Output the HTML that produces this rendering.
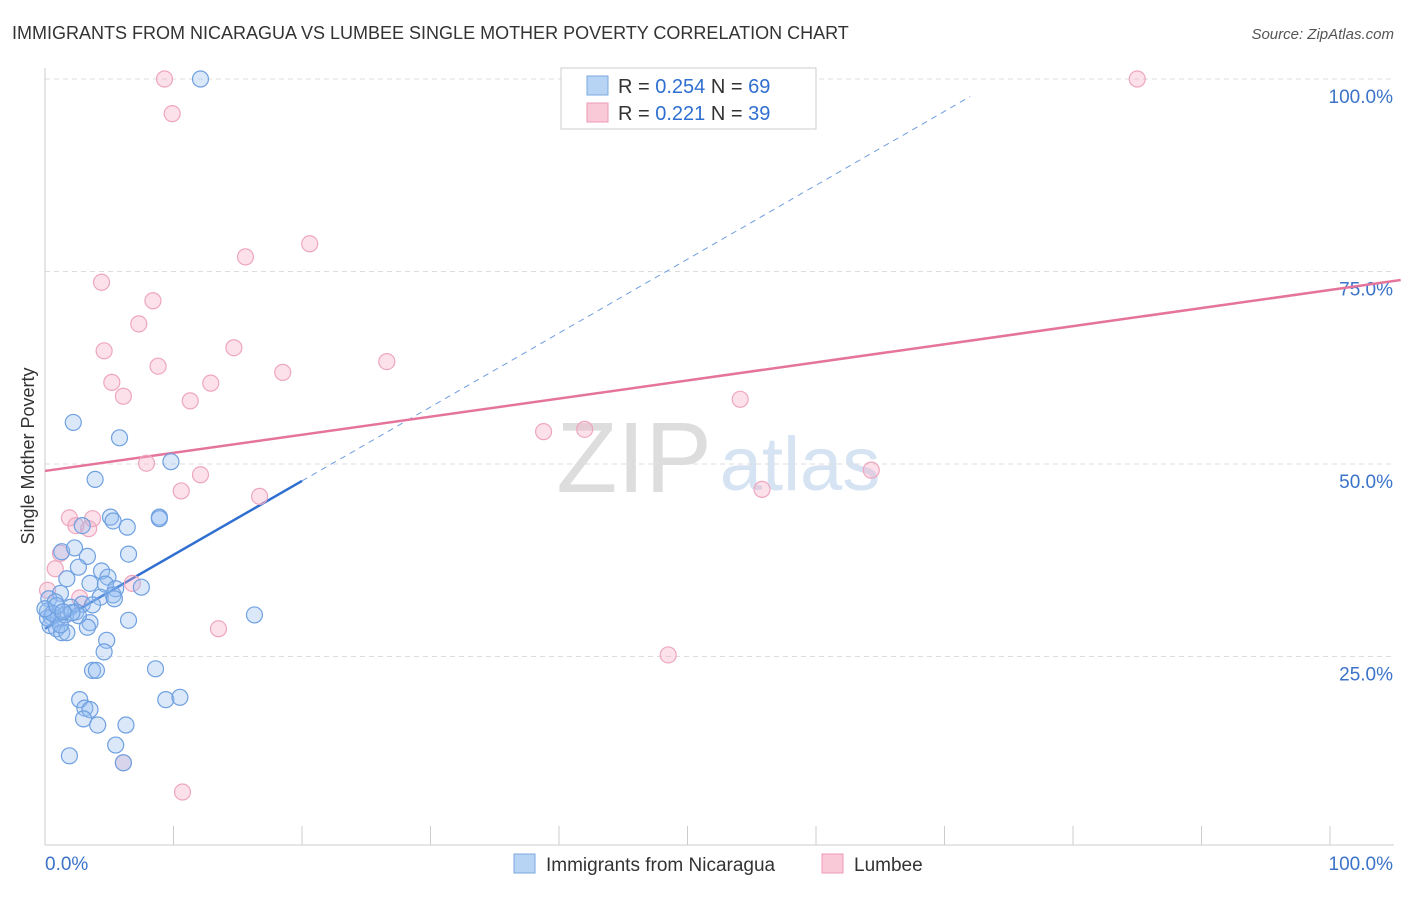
<!DOCTYPE html>
<html><head><meta charset="utf-8"><style>
body{margin:0;background:#fff;font-family:"Liberation Sans",sans-serif}
svg text{font-family:"Liberation Sans",sans-serif}
</style></head><body>
<svg id="chart" width="1406" height="892" xmlns="http://www.w3.org/2000/svg">
<text x="12" y="39" font-size="18" fill="#333">IMMIGRANTS FROM NICARAGUA VS LUMBEE SINGLE MOTHER POVERTY CORRELATION CHART</text>
<text x="1394" y="39" font-size="15" fill="#555" font-style="italic" text-anchor="end">Source: ZipAtlas.com</text>
<text x="34" y="456" font-size="18" fill="#333" transform="rotate(-90 34 456)" text-anchor="middle">Single Mother Poverty</text>
<g><text x="634" y="492" font-size="100" fill="#ddd" text-anchor="middle" font-family="Liberation Serif">ZIP</text><text x="800" y="490" font-size="76" fill="#d5e3f3" text-anchor="middle">atlas</text></g>
<g id="grid"></g><g id="axes"></g><g id="trends"></g><g id="pts"></g>
<g>
<rect x="561" y="68" width="255" height="61" fill="#fff" stroke="#ccc"/>
<rect x="587" y="76" width="21" height="19" fill="#b8d4f5" stroke="#7aa8e0"/>
<rect x="587" y="103" width="21" height="19" fill="#f9c9d8" stroke="#ee9ab5"/>
<text x="618" y="93" font-size="20" fill="#333">R = <tspan fill="#2f6fd0">0.254</tspan>   N = <tspan fill="#2f6fd0">69</tspan></text>
<text x="618" y="120" font-size="20" fill="#333">R =  <tspan fill="#2f6fd0">0.221</tspan>   N = <tspan fill="#2f6fd0">39</tspan></text>
</g>
<g>
<rect x="514" y="854" width="21" height="19" fill="#b8d4f5" stroke="#7aa8e0"/>
<text x="546" y="871" font-size="19" fill="#333">Immigrants from Nicaragua</text>
<rect x="822" y="854" width="21" height="19" fill="#f9c9d8" stroke="#ee9ab5"/>
<text x="854" y="871" font-size="19" fill="#333">Lumbee</text>
</g>
</svg>
<script>
const blueX=[12.1,2.2,5.8,9.8,3.9,5.1,5.3,8.9,8.9,6.4,2.9,1.3,2.3,3.3,6.5,2.6,4.4,1.7,4.9,3.5,4.7,7.5,5.5,5.3,4.3,1.2,0.3,0.8,2.9,3.7,2.0,2.4,0.2,0.5,1.0,1.6,0.4,0.9,1.3,1.7,3.5,3.3,6.5,16.3,4.8,4.6,3.7,4.0,8.6,2.7,9.4,10.5,3.1,3.5,3.0,4.1,6.3,5.5,1.9,6.1,0.2,0.6,0.0,1.2,2.6,5.4,2.1,0.9,1.4];
const blueY=[100,55.4,53.4,50.3,48,43.1,42.6,43.1,42.9,41.8,42,38.6,39.1,38,38.3,36.6,36.1,35.1,35.3,34.5,34.4,34,33.8,33,32.7,33.2,32.5,32.1,31.8,31.7,31.4,30.8,30.9,30.1,29.9,30.4,29,28.6,28.1,28.1,29.4,28.8,29.7,30.4,27.1,25.6,23.2,23.2,23.4,19.4,19.4,19.7,18.3,18.1,16.9,16.1,16.1,13.5,12.1,11.2,30,30.6,31.2,29.1,30.3,32.5,30.7,31.6,30.8];
const pinkX=[9.3,85,9.9,20.6,15.6,4.4,8.4,7.3,4.6,14.7,8.8,18.5,26.6,5.2,12.9,6.1,11.3,54.1,38.8,42,7.9,12.1,64.3,10.6,16.7,55.8,1.9,3.7,2.4,3.4,1.2,0.8,6.8,0.2,2.7,13.5,48.5,6.1,10.7];
const pinkY=[100,100,95.5,78.6,76.9,73.6,71.2,68.2,64.7,65.1,62.7,61.9,63.3,60.6,60.5,58.8,58.2,58.4,54.2,54.5,50.1,48.6,49.2,46.5,45.8,46.7,43,42.9,42,41.6,38.4,36.4,34.5,33.6,32.6,28.6,25.2,11.2,7.4];
const yTicks=[25,50,75,100];
const blueTrend=[0.6,20,0.6+0.77*20/10*0+0];
const X=v=>45+v*12.85, Y=v=>849-v*7.7;
const ns="http://www.w3.org/2000/svg";
function mk(t,a,p){const e=document.createElementNS(ns,t);for(const k in a)e.setAttribute(k,a[k]);p.appendChild(e);return e;}
const grid=document.getElementById('grid'),axes=document.getElementById('axes');
yTicks.forEach(t=>{const l=mk('line',{x1:45,x2:1394,y1:Y(t),y2:Y(t),stroke:'#ddd','stroke-dasharray':'5,4'},grid);


const tx=mk('text',{x:1393,y:Y(t)+24,'font-size':19,fill:'#3b73c9','text-anchor':'end'},axes);tx.textContent=t.toFixed(1)+'%';

});
mk('line',{x1:45,x2:45,y1:68,y2:845,stroke:'#ccc'},axes);
mk('line',{x1:45,x2:1394,y1:845,y2:845,stroke:'#ccc'},axes);
for(let i=0;i<=10;i++){const t=mk('line',{x1:X(i*10),x2:X(i*10),y1:826,y2:845,stroke:'#ccc'},axes);

}
const x0=mk('text',{x:45,y:870,'font-size':19,fill:'#3b73c9'},axes);x0.textContent='0.0%';


const x1=mk('text',{x:1393,y:870,'font-size':19,fill:'#3b73c9','text-anchor':'end'},axes);x1.textContent='100.0%';


const tr=document.getElementById('trends');
const bA=28.6,bB=0.96; // blue trend intercept/slope (%)
const bd=mk('line',{x1:X(20),y1:Y(bA+bB*20),x2:X(72),y2:Y(bA+bB*72),stroke:'#6f9ee0','stroke-dasharray':'6,5','stroke-width':1},tr);


const bl=mk('line',{x1:X(0),y1:Y(bA),x2:X(20),y2:Y(bA+bB*20),stroke:'#2f6fd0','stroke-width':2.5},tr);


const pA=49.1,pB=0.235;
const pl=mk('line',{x1:X(0),y1:Y(pA),x2:X(105.5),y2:Y(pA+pB*105.5),stroke:'#e5749c','stroke-width':2.5},tr);


const pts=document.getElementById('pts');
pinkX.forEach((v,i)=>{const c=mk('circle',{cx:X(v),cy:Y(pinkY[i]),r:8,fill:'rgba(245,170,195,0.35)',stroke:'#eea6bf','stroke-width':1.2},pts);

});
blueX.forEach((v,i)=>{const c=mk('circle',{cx:X(v),cy:Y(blueY[i]),r:8,fill:'rgba(150,190,240,0.35)',stroke:'#6fa0e0','stroke-width':1.2},pts);

});
</script>
</body></html>
